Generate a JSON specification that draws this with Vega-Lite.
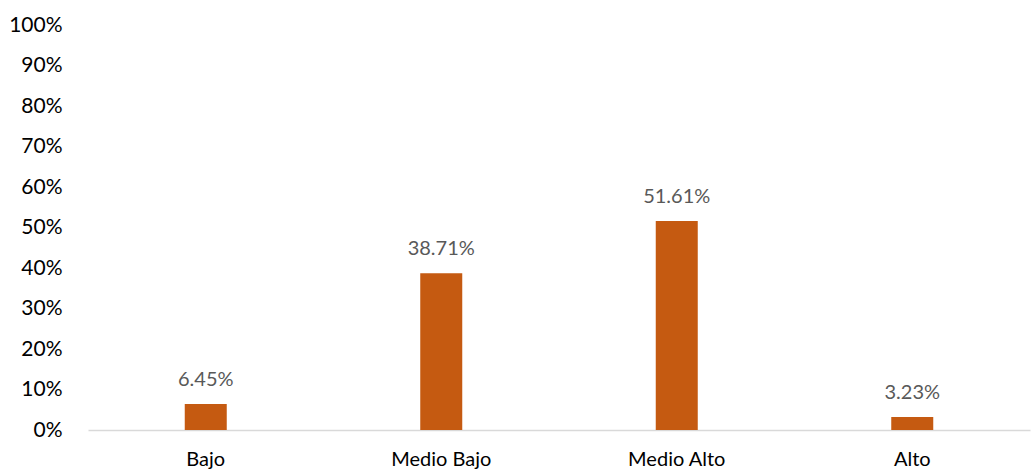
{
  "$schema": "https://vega.github.io/schema/vega-lite/v6.json",
  "autosize": "none",
  "width": 942,
  "height": 405,
  "padding": {"left": 88, "top": 25, "right": 1, "bottom": 42},
  "background": "white",
  "config": {"view": {"stroke": null}, "font": "Lato"},
  "data": {"values": [
    {"nivel": "Bajo", "pct": 0.0645, "label": "6.45%"},
    {"nivel": "Medio Bajo", "pct": 0.3871, "label": "38.71%"},
    {"nivel": "Medio Alto", "pct": 0.5161, "label": "51.61%"},
    {"nivel": "Alto", "pct": 0.0323, "label": "3.23%"}
  ]},
  "encoding": {
    "x": {"field": "nivel", "type": "nominal", "sort": null,
      "axis": {"title": null, "labelAngle": 0, "labelFontSize": 20, "labelColor": "#000000", "labelPadding": 19, "ticks": false, "domainColor": "#D9D9D9", "domainWidth": 1.5, "labelFont": "Lato"}},
    "y": {"field": "pct", "type": "quantitative", "scale": {"domain": [0, 1]},
      "axis": {"title": null, "format": ".0%", "values": [0,0.1,0.2,0.3,0.4,0.5,0.6,0.7,0.8,0.9,1], "grid": false, "domain": false, "ticks": false, "labelFontSize": 21, "labelColor": "#000000", "labelPadding": 26, "labelFont": "Lato"}}
  },
  "layer": [
    {"mark": {"type": "bar", "color": "#C55A11", "width": 42}},
    {"mark": {"type": "text", "baseline": "bottom", "dy": -14, "fontSize": 20, "color": "#595959", "font": "Lato"},
     "encoding": {"text": {"field": "label"}}}
  ]
}
